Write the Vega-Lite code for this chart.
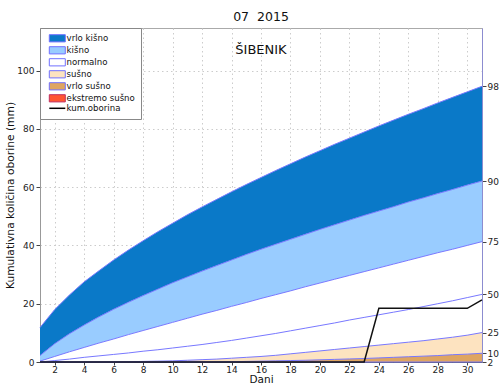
{
  "$schema": "https://vega.github.io/schema/vega-lite/v6.json",
  "width": 442,
  "height": 334,
  "autosize": {"type": "none"},
  "padding": {"left": 40, "top": 28, "right": 17, "bottom": 22},
  "config": {
    "font": "DejaVu Sans",
    "view": {"stroke": "#aaaaaa", "strokeWidth": 1},
    "axis": {"labelFont": "DejaVu Sans", "titleFont": "DejaVu Sans", "labelColor": "#222", "titleColor": "#111", "tickColor": "#444", "titleFontWeight": "normal"},
    "axisX": {"labelOverlap": false, "labelSeparation": 0}
  },
  "title": {
    "text": "07\u00a0 2015",
    "subtitle": "ŠIBENIK",
    "font": "DejaVu Sans",
    "fontSize": 12.5,
    "fontWeight": "normal",
    "color": "#111",
    "subtitleFont": "DejaVu Sans",
    "subtitleFontSize": 13,
    "subtitleColor": "#111",
    "subtitlePadding": 20,
    "offset": -29,
    "anchor": "middle"
  },
  "data": {
    "values": [
      {"day": 1, "p98": 11.8, "p90": 2.2, "p75": 0.3, "p50": 0, "p25": 0, "p10": 0, "p2": 0, "obs": 0},
      {"day": 2, "p98": 18.0, "p90": 6.3, "p75": 1.9, "p50": 0.5, "p25": 0, "p10": 0, "p2": 0, "obs": 0},
      {"day": 3, "p98": 23.0, "p90": 9.7, "p75": 3.5, "p50": 1.0, "p25": 0, "p10": 0, "p2": 0, "obs": 0},
      {"day": 4, "p98": 27.5, "p90": 12.7, "p75": 5.0, "p50": 1.6, "p25": 0, "p10": 0, "p2": 0, "obs": 0},
      {"day": 5, "p98": 31.3, "p90": 15.5, "p75": 6.5, "p50": 2.1, "p25": 0, "p10": 0, "p2": 0, "obs": 0},
      {"day": 6, "p98": 35.0, "p90": 18.1, "p75": 7.9, "p50": 2.6, "p25": 0, "p10": 0, "p2": 0, "obs": 0},
      {"day": 7, "p98": 38.4, "p90": 20.5, "p75": 9.4, "p50": 3.1, "p25": 0.1, "p10": 0, "p2": 0, "obs": 0},
      {"day": 8, "p98": 41.6, "p90": 22.8, "p75": 10.8, "p50": 3.7, "p25": 0.2, "p10": 0, "p2": 0, "obs": 0},
      {"day": 9, "p98": 44.7, "p90": 25.0, "p75": 12.2, "p50": 4.2, "p25": 0.3, "p10": 0, "p2": 0, "obs": 0},
      {"day": 10, "p98": 47.6, "p90": 27.2, "p75": 13.6, "p50": 4.8, "p25": 0.4, "p10": 0, "p2": 0, "obs": 0},
      {"day": 11, "p98": 50.5, "p90": 29.2, "p75": 15.0, "p50": 5.4, "p25": 0.6, "p10": 0, "p2": 0, "obs": 0},
      {"day": 12, "p98": 53.2, "p90": 31.2, "p75": 16.4, "p50": 6.0, "p25": 0.8, "p10": 0, "p2": 0, "obs": 0},
      {"day": 13, "p98": 55.8, "p90": 33.1, "p75": 17.7, "p50": 6.7, "p25": 1.0, "p10": 0.05, "p2": 0, "obs": 0},
      {"day": 14, "p98": 58.4, "p90": 35.0, "p75": 19.1, "p50": 7.4, "p25": 1.3, "p10": 0.1, "p2": 0, "obs": 0},
      {"day": 15, "p98": 60.9, "p90": 36.9, "p75": 20.4, "p50": 8.2, "p25": 1.6, "p10": 0.2, "p2": 0, "obs": 0},
      {"day": 16, "p98": 63.3, "p90": 38.7, "p75": 21.8, "p50": 9.0, "p25": 1.9, "p10": 0.3, "p2": 0, "obs": 0},
      {"day": 17, "p98": 65.7, "p90": 40.4, "p75": 23.1, "p50": 9.8, "p25": 2.3, "p10": 0.4, "p2": 0, "obs": 0},
      {"day": 18, "p98": 68.0, "p90": 42.1, "p75": 24.4, "p50": 10.7, "p25": 2.8, "p10": 0.5, "p2": 0, "obs": 0},
      {"day": 19, "p98": 70.3, "p90": 43.8, "p75": 25.8, "p50": 11.6, "p25": 3.3, "p10": 0.6, "p2": 0, "obs": 0},
      {"day": 20, "p98": 72.5, "p90": 45.5, "p75": 27.1, "p50": 12.5, "p25": 3.8, "p10": 0.75, "p2": 0, "obs": 0},
      {"day": 21, "p98": 74.7, "p90": 47.1, "p75": 28.4, "p50": 13.4, "p25": 4.3, "p10": 0.9, "p2": 0, "obs": 0},
      {"day": 22, "p98": 76.8, "p90": 48.7, "p75": 29.7, "p50": 14.4, "p25": 4.8, "p10": 1.05, "p2": 0, "obs": 0},
      {"day": 23, "p98": 78.9, "p90": 50.3, "p75": 31.0, "p50": 15.3, "p25": 5.3, "p10": 1.2, "p2": 0, "obs": 0},
      {"day": 24, "p98": 81.0, "p90": 51.8, "p75": 32.3, "p50": 16.2, "p25": 5.8, "p10": 1.4, "p2": 0, "obs": 18.4},
      {"day": 25, "p98": 83.0, "p90": 53.3, "p75": 33.6, "p50": 17.1, "p25": 6.3, "p10": 1.6, "p2": 0, "obs": 18.4},
      {"day": 26, "p98": 85.0, "p90": 54.9, "p75": 34.9, "p50": 18.0, "p25": 6.8, "p10": 1.8, "p2": 0, "obs": 18.4},
      {"day": 27, "p98": 86.9, "p90": 56.3, "p75": 36.2, "p50": 19.0, "p25": 7.3, "p10": 2.0, "p2": 0, "obs": 18.4},
      {"day": 28, "p98": 88.9, "p90": 57.8, "p75": 37.5, "p50": 20.0, "p25": 7.9, "p10": 2.2, "p2": 0, "obs": 18.4},
      {"day": 29, "p98": 90.8, "p90": 59.2, "p75": 38.7, "p50": 21.0, "p25": 8.5, "p10": 2.5, "p2": 0, "obs": 18.4},
      {"day": 30, "p98": 92.7, "p90": 60.7, "p75": 40.0, "p50": 22.1, "p25": 9.2, "p10": 2.7, "p2": 0, "obs": 18.4},
      {"day": 31, "p98": 94.6, "p90": 62.1, "p75": 41.3, "p50": 23.2, "p25": 10.1, "p10": 3.0, "p2": 0, "obs": 21.3}
    ]
  },
  "resolve": {"axis": {"y": "independent"}},
  "layer": [
    {
      "mark": {"type": "area"},
      "encoding": {
        "x": {"field": "day", "type": "quantitative", "scale": {"domain": [1, 31], "nice": false, "zero": false},
          "axis": {"title": "Dani", "titleFontSize": 10.5, "titlePadding": 0.5, "values": [2,4,6,8,10,12,14,16,18,20,22,24,26,28,30], "tickCount": 40, "labelOverlap": false, "labelFontSize": 9, "tickSize": 3, "labelPadding": 0, "domainColor": "#555", "grid": true, "gridColor": "#cccccc", "gridDash": [1.5, 3]}},
        "y": {"field": "p90", "type": "quantitative", "scale": {"domain": [0, 114.6], "nice": false},
          "axis": {"title": "Kumulativna količina oborine (mm)", "titleFontSize": 10.7, "titlePadding": 1, "values": [0, 20, 40, 60, 80, 100], "tickCount": 20, "labelFontSize": 9, "tickSize": 4, "labelPadding": 2, "domainColor": "#999", "grid": true, "gridColor": "#cccccc", "gridDash": [1.5, 3]}},
        "y2": {"field": "p98"},
        "color": {
          "datum": "vrlo kišno",
          "scale": {
            "domain": ["vrlo kišno", "kišno", "normalno", "sušno", "vrlo sušno", "ekstremo sušno", "kum.oborina"],
            "range": ["#0a79c8", "#99ccff", "#ffffff", "#fde3c0", "#dfa561", "#ff5533", "#000000"]
          },
          "legend": {
            "title": null,
            "orient": "top-left",
            "offset": 0,
            "fillColor": "white",
            "strokeColor": "#888888",
            "padding": 6,
            "rowPadding": 0,
            "labelFont": "DejaVu Sans",
            "labelFontSize": 8.6,
            "labelColor": "#111",
            "symbolOffset": 7,
            "labelOffset": 5,
            "symbolType": "M-1,-0.45H1V0.45H-1Z",
            "symbolSize": 256,
            "symbolStrokeWidth": 1,
            "symbolStrokeColor": "#7070ff",
            "symbolOpacity": 1,
            "encode": {
              "symbols": {
                "update": {
                  "shape": {"signal": "datum.value === 'kum.oborina' ? 'stroke' : 'M-1,-0.45H1V0.45H-1Z'"},
                  "stroke": {"signal": "datum.value === 'kum.oborina' ? '#000000' : (datum.value === 'ekstremo sušno' ? '#c03060' : '#7070ff')"},
                  "strokeWidth": {"signal": "datum.value === 'kum.oborina' ? 1.5 : 1"}
                }
              }
            }
          }
        }
      }
    },
    {
      "mark": {"type": "area"},
      "encoding": {
        "x": {"field": "day", "type": "quantitative"},
        "y": {"field": "p75", "type": "quantitative", "axis": null},
        "y2": {"field": "p90"},
        "color": {"datum": "kišno"}
      }
    },
    {
      "mark": {"type": "area"},
      "encoding": {
        "x": {"field": "day", "type": "quantitative"},
        "y": {"field": "p25", "type": "quantitative", "axis": null},
        "y2": {"field": "p75"},
        "color": {"datum": "normalno"}
      }
    },
    {
      "mark": {"type": "area"},
      "encoding": {
        "x": {"field": "day", "type": "quantitative"},
        "y": {"field": "p10", "type": "quantitative", "axis": null},
        "y2": {"field": "p25"},
        "color": {"datum": "sušno"}
      }
    },
    {
      "mark": {"type": "area"},
      "encoding": {
        "x": {"field": "day", "type": "quantitative"},
        "y": {"field": "p2", "type": "quantitative", "axis": null},
        "y2": {"field": "p10"},
        "color": {"datum": "vrlo sušno"}
      }
    },
    {
      "transform": [{"fold": ["p98", "p90", "p75", "p50", "p25", "p10", "p2"], "as": ["pct", "value"]}],
      "mark": {"type": "line", "color": "#7878ff", "strokeWidth": 1},
      "encoding": {
        "x": {"field": "day", "type": "quantitative"},
        "y": {"field": "value", "type": "quantitative",
          "axis": {"orient": "right", "title": null, "grid": false, "values": [94.6, 62.1, 41.3, 23.2, 10.1, 3.0, 0], "tickCount": 20, "labelOverlap": false, "labelFontSize": 9, "tickSize": 4, "labelPadding": 1, "domainColor": "#8c8cd0",
            "labelExpr": "datum.value > 80 ? '98' : datum.value > 50 ? '90' : datum.value > 30 ? '75' : datum.value > 15 ? '50' : datum.value > 6 ? '25' : datum.value > 1.5 ? '10' : '2'"}},
        "detail": {"field": "pct"}
      }
    },
    {
      "mark": {"type": "line", "color": "#111111", "strokeWidth": 1.5},
      "encoding": {
        "x": {"field": "day", "type": "quantitative"},
        "y": {"field": "obs", "type": "quantitative", "axis": null}
      }
    }
  ]
}
